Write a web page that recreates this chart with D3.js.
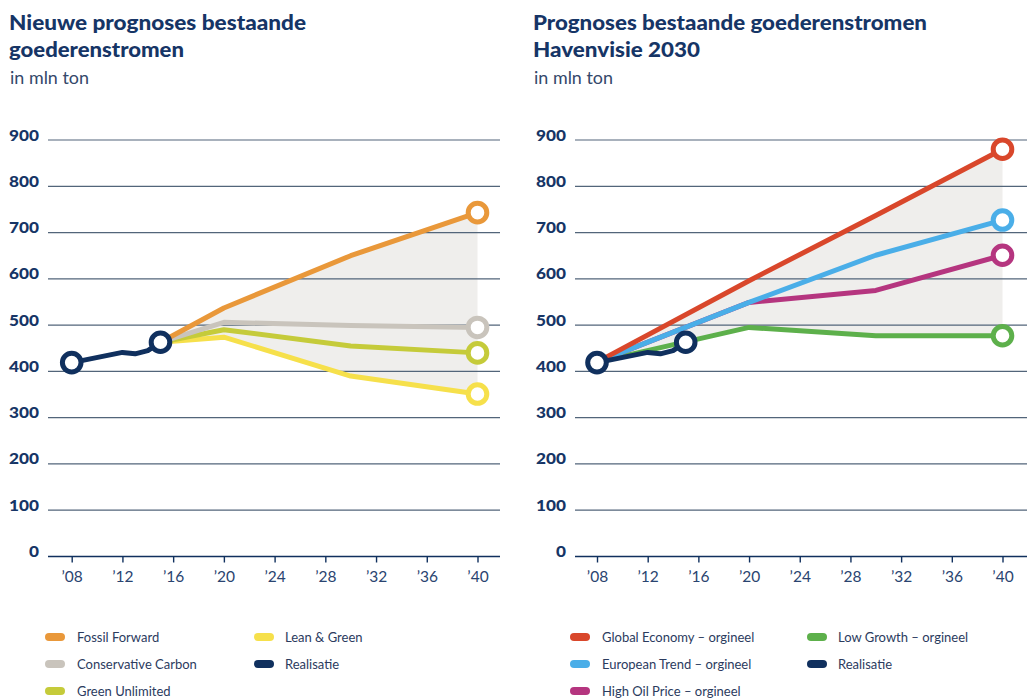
<!DOCTYPE html>
<html>
<head>
<meta charset="utf-8">
<script src="https://cdn.jsdelivr.net/npm/d3@7"></script>
<style>
  body { margin: 0; background: #ffffff; }
  svg { display: block; }
  text { font-family: Lato, "Open Sans", sans-serif; }
</style>
</head>
<body>
<svg id="chart" width="1027" height="698"></svg>
<script>
// ---- Axis ticks ----
const yTicks = [0, 100, 200, 300, 400, 500, 600, 700, 800, 900];
const xTicks = [2008, 2012, 2016, 2020, 2024, 2028, 2032, 2036, 2040];
const xTickLabels = ["’08", "’12", "’16", "’20", "’24", "’28", "’32", "’36", "’40"];

// ---- Realised throughput (mln ton) ----
const realisatieYears = [2008, 2012, 2013, 2014, 2015];
const realisatieValues = [419, 441, 438, 445, 463];

// ---- New scenario forecasts ----
const newYears = [2015, 2020, 2030, 2040];
const fossilForward = [463, 537, 650, 743];
const conservativeCarbon = [463, 506, 499, 495];
const greenUnlimited = [463, 490, 455, 440];
const leanGreen = [463, 474, 390, 351];

// ---- Havenvisie 2030 original forecasts ----
const oldYears = [2008, 2020, 2030, 2040];
const globalEconomy = [420, 596, 737, 880];
const europeanTrend = [420, 549, 651, 727];
const highOilPrice = [420, 549, 575, 651];
const lowGrowth = [420, 495, 477, 477];

const NAVY = "#10305e";
const GRID = "#52657a";
const SHADE = "#efeeec";

const panels = [
  {
    titleX: 9,
    title: [["Nieuwe prognoses bestaande", 297], ["goederenstromen", 175]],
    gridX: [48, 500],
    range: [71.7, 477.5],
    labelX: 39,
    years: newYears,
    upper: fossilForward,
    lower: leanGreen,
    series: [
      { name: "Lean & Green", values: leanGreen, color: "#f6e04b" },
      { name: "Green Unlimited", values: greenUnlimited, color: "#c5cb3a" },
      { name: "Conservative Carbon", values: conservativeCarbon, color: "#c9c4bc" },
      { name: "Fossil Forward", values: fossilForward, color: "#e9983a" }
    ],
    legend: [
      ["Fossil Forward", "#e9983a", 0, 0],
      ["Conservative Carbon", "#c9c4bc", 0, 1],
      ["Green Unlimited", "#c5cb3a", 0, 2],
      ["Lean & Green", "#f6e04b", 1, 0],
      ["Realisatie", NAVY, 1, 1]
    ],
    legendX: [45, 254],
    textX: [77, 285]
  },
  {
    titleX: 533,
    title: [["Prognoses bestaande goederenstromen", 394], ["Havenvisie 2030", 167]],
    gridX: [575, 1027],
    range: [597, 1002.5],
    labelX: 566,
    years: oldYears,
    upper: globalEconomy,
    lower: lowGrowth,
    series: [
      { name: "Low Growth – orgineel", values: lowGrowth, color: "#5db04b" },
      { name: "High Oil Price – orgineel", values: highOilPrice, color: "#b5357f" },
      { name: "European Trend – orgineel", values: europeanTrend, color: "#4aaee8" },
      { name: "Global Economy – orgineel", values: globalEconomy, color: "#d9472b" }
    ],
    legend: [
      ["Global Economy – orgineel", "#d9472b", 0, 0],
      ["European Trend – orgineel", "#4aaee8", 0, 1],
      ["High Oil Price – orgineel", "#b5357f", 0, 2],
      ["Low Growth – orgineel", "#5db04b", 1, 0],
      ["Realisatie", NAVY, 1, 1]
    ],
    legendX: [570, 807],
    textX: [602, 838]
  }
];

const svg = d3.select("#chart");
const y = d3.scaleLinear().domain([0, 900]).range([556.5, 140]);
const legendRows = [637, 664, 691];

panels.forEach(p => {
  const g = svg.append("g");
  const x = d3.scaleLinear().domain([2008, 2040]).range(p.range);

  // Titles
  p.title.forEach(([t, w], i) => {
    g.append("text").attr("x", p.titleX).attr("y", 30 + i * 27)
      .attr("font-size", 20.5).attr("font-weight", 900).attr("fill", "#163566")
      .attr("textLength", w).attr("lengthAdjust", "spacingAndGlyphs")
      .text(t);
  });
  g.append("text").attr("x", p.titleX + 1).attr("y", 84)
    .attr("font-size", 16.5).attr("fill", "#34486a")
    .attr("textLength", 79).attr("lengthAdjust", "spacingAndGlyphs")
    .text("in mln ton");

  // Range between highest and lowest forecast
  const area = d3.area()
    .x((d, i) => x(p.years[i]))
    .y0((d, i) => y(p.lower[i]))
    .y1(d => y(d));
  g.append("path").datum(p.upper).attr("d", area).attr("fill", SHADE);

  // Gridlines
  g.selectAll(".grid").data(yTicks.filter(v => v > 0)).join("line")
    .attr("x1", p.gridX[0]).attr("x2", p.gridX[1])
    .attr("y1", d => y(d)).attr("y2", d => y(d))
    .attr("stroke", GRID).attr("stroke-width", 1.2);

  // X axis with ticks
  const xAxis = d3.axisBottom(x).tickValues(xTicks)
    .tickFormat((d, i) => xTickLabels[i]).tickSize(6).tickPadding(8);
  const ax = g.append("g").attr("transform", `translate(0,${y(0)})`).call(xAxis);
  ax.select(".domain").attr("d", `M${p.gridX[0]},0H${p.gridX[1]}`)
    .attr("stroke", NAVY).attr("stroke-width", 1.4);
  ax.selectAll(".tick line").attr("stroke", NAVY).attr("stroke-width", 1.4);
  ax.selectAll(".tick text").attr("font-size", 15.5).attr("fill", "#2a4470")
    .attr("font-family", "Lato, sans-serif");

  // Y labels
  g.selectAll(".ylab").data(yTicks).join("text")
    .attr("x", p.labelX).attr("y", d => y(d) + 0.5)
    .attr("text-anchor", "end")
    .attr("font-size", 15).attr("font-weight", 900).attr("fill", "#163566")
    .attr("textLength", d => String(d).length * 10).attr("lengthAdjust", "spacingAndGlyphs")
    .text(d => d);

  // Forecast lines
  const line = d3.line().x((d, i) => x(p.years[i])).y(d => y(d));
  p.series.forEach(s => {
    g.append("path").datum(s.values).attr("d", line)
      .attr("fill", "none").attr("stroke", s.color).attr("stroke-width", 5)
      .attr("stroke-linejoin", "round");
  });

  // Realised line
  const rline = d3.line().x((d, i) => x(realisatieYears[i])).y(d => y(d));
  g.append("path").datum(realisatieValues).attr("d", rline)
    .attr("fill", "none").attr("stroke", NAVY).attr("stroke-width", 5)
    .attr("stroke-linejoin", "round");

  // End markers
  const last = p.years.length - 1;
  p.series.forEach(s => {
    g.append("circle").attr("cx", x(p.years[last])).attr("cy", y(s.values[last]))
      .attr("r", 9.3).attr("fill", "#fff").attr("stroke", s.color).attr("stroke-width", 5);
  });
  [0, realisatieYears.length - 1].forEach(i => {
    g.append("circle").attr("cx", x(realisatieYears[i])).attr("cy", y(realisatieValues[i]))
      .attr("r", 9.3).attr("fill", "#fff").attr("stroke", NAVY).attr("stroke-width", 5);
  });

  // Legend
  p.legend.forEach(([name, color, col, row]) => {
    g.append("rect").attr("x", p.legendX[col]).attr("y", legendRows[row] - 4)
      .attr("width", 20).attr("height", 8).attr("rx", 4)
      .attr("fill", color);
    g.append("text").attr("x", p.textX[col]).attr("y", legendRows[row])
      .attr("dy", "0.35em").attr("font-size", 13).attr("fill", "#2b3b5e")
      .text(name);
  });
});
</script>
</body>
</html>
